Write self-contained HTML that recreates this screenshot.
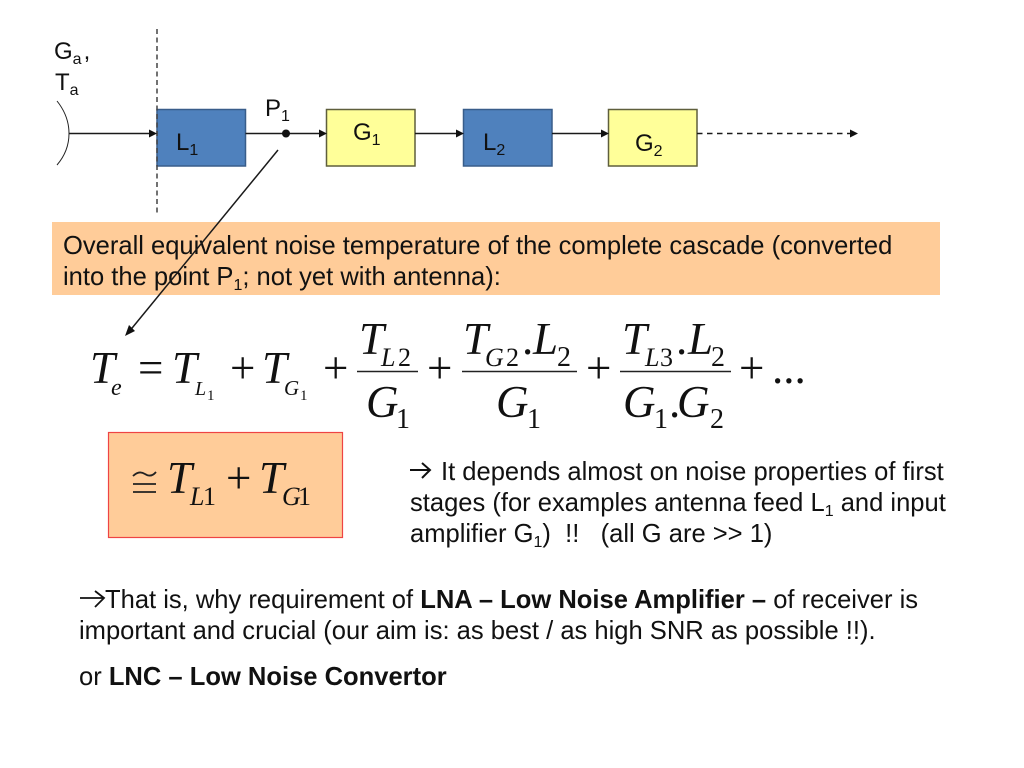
<!DOCTYPE html>
<html><head><meta charset="utf-8"><style>
html,body{margin:0;padding:0;background:#fff}
svg{display:block}
text{white-space:pre}
.s{font-family:"Liberation Sans",sans-serif;font-size:24px;fill:#111}
.t{font-size:25.55px}
.sub{font-size:16px}
.b{font-weight:bold}
.m{font-family:"Liberation Serif",serif;font-size:45px;font-style:italic;fill:#111}
.n{font-family:"Liberation Serif",serif;font-size:45px;fill:#111}
.ms{font-family:"Liberation Serif",serif;font-size:28px;font-style:italic;fill:#111}
.ns{font-family:"Liberation Serif",serif;font-size:28px;fill:#111}
.f{font-family:"Liberation Serif",serif;font-size:26px;font-style:italic;fill:#111}
.d{font-family:"Liberation Serif",serif;font-size:26px;fill:#111}
.l{stroke:#1a1a1a;stroke-width:1.500;fill:none}
.a{fill:#111;stroke:none}
</style></head><body>
<svg width="1024" height="768" viewBox="0 0 1024 768" xmlns="http://www.w3.org/2000/svg">
<rect width="1024" height="768" fill="#fff"/>

<text class="s" x="54" y="59">G<tspan class="sub" dy="5">a</tspan><tspan dy="-5" dx="2">,</tspan></text>
<text class="s" x="55" y="90">T<tspan class="sub" dy="5">a</tspan></text>
<text class="s" x="265" y="116">P<tspan class="sub" dy="5">1</tspan></text>

<path d="M57 101 Q69 116 69 133.500 Q69 151 57 165" stroke="#222" stroke-width="1" fill="none"/>

<rect x="157" y="109.500" width="88.500" height="56.500" fill="#4f81bd" stroke="#385d8a" stroke-width="1.500"/>
<rect x="326.500" y="109.500" width="88.500" height="56.500" fill="#ffff99" stroke="#5f5f3c" stroke-width="1.500"/>
<rect x="463.500" y="109.500" width="88.500" height="56.500" fill="#4f81bd" stroke="#385d8a" stroke-width="1.500"/>
<rect x="608.500" y="109.500" width="88.500" height="56.500" fill="#ffff99" stroke="#5f5f3c" stroke-width="1.500"/>

<line x1="157" y1="29" x2="157" y2="213" stroke="#444" stroke-width="1.500" stroke-dasharray="5 3.500"/>

<path class="l" d="M69 133.500H150M245.500 133.500H320M415 133.500H457M552 133.500H602"/>
<path class="l" d="M697 133.500H851" stroke-dasharray="5.500 4.500"/>
<path class="a" d="M149 129.500L157 133.500L149 137.500ZM319 129.500L327 133.500L319 137.500ZM456 129.500L464 133.500L456 137.500ZM601 129.500L609 133.500L601 137.500ZM850 129.500L858 133.500L850 137.500Z"/>
<circle class="a" cx="286" cy="133.500" r="4"/>

<text class="s" x="176" y="150">L<tspan class="sub" dy="5">1</tspan></text>
<text class="s" x="353" y="140">G<tspan class="sub" dy="5">1</tspan></text>
<text class="s" x="483" y="150">L<tspan class="sub" dy="5">2</tspan></text>
<text class="s" x="635" y="151">G<tspan class="sub" dy="5">2</tspan></text>

<rect x="52" y="222" width="888" height="73" fill="#ffcc99"/>
<text class="s t" x="63" y="254">Overall equivalent noise temperature of the complete cascade (converted</text>
<text class="s t" x="63" y="285">into the point P<tspan class="sub" dy="5">1</tspan><tspan dy="-5">; not yet with antenna):</tspan></text>

<path class="l" d="M278 150L128 333"/>
<path class="a" d="M125 336L129 325L135 331Z"/>

<!-- Equation -->
<text class="m" x="90" y="383">T</text><text class="ms" x="111" y="395" style="font-size:24px">e</text>
<text class="n" x="138" y="383">=</text>
<text class="m" x="172" y="383">T</text><text class="ms" x="195" y="395" style="font-size:20px">L</text><text class="ns" x="207" y="400" style="font-size:15px">1</text>
<text class="n" x="230" y="383">+</text>
<text class="m" x="262" y="383">T</text><text class="ms" x="284" y="395" style="font-size:21px">G</text><text class="ns" x="300" y="400" style="font-size:15px">1</text>
<text class="n" x="323" y="383">+</text>

<line x1="357" y1="371.500" x2="418" y2="371.500" stroke="#222" stroke-width="1.500"/>
<text class="m" x="359" y="354">T</text>
<text class="f" x="381" y="366">L</text><text class="d" x="398" y="366">2</text>
<text class="m" x="366" y="417">G</text><text class="ns" x="396" y="428">1</text>
<text class="n" x="427" y="383">+</text>

<line x1="462" y1="371.500" x2="577" y2="371.500" stroke="#222" stroke-width="1.500"/>
<text class="m" x="463" y="354">T</text>
<text class="f" x="485" y="366">G</text><text class="d" x="506" y="366">2</text>
<text class="n" x="522" y="354">.</text><text class="m" x="533" y="354">L</text><text class="ns" x="557" y="366">2</text>
<text class="m" x="496" y="417">G</text><text class="ns" x="527" y="428">1</text>
<text class="n" x="586" y="383">+</text>

<line x1="620" y1="371.500" x2="731" y2="371.500" stroke="#222" stroke-width="1.500"/>
<text class="m" x="622" y="354">T</text>
<text class="f" x="645" y="366">L</text><text class="d" x="660" y="366">3</text>
<text class="n" x="676" y="354">.</text><text class="m" x="688" y="354">L</text><text class="ns" x="711" y="366">2</text>
<text class="m" x="623" y="417">G</text><text class="ns" x="654" y="428">1</text><text class="n" x="669" y="417">.</text><text class="m" x="677" y="417">G</text><text class="ns" x="710" y="428">2</text>
<text class="n" x="739" y="383">+</text>
<text class="n" x="772" y="383">...</text>

<!-- Boxed -->
<rect x="108.500" y="432.500" width="234" height="105" fill="#ffcc99" stroke="#ee4444" stroke-width="1.200"/>
<path d="M133 484H156M133 492H156" stroke="#222" stroke-width="1.800" fill="none"/>
<path d="M133 476Q139 470 145 474T156 472" stroke="#222" stroke-width="1.800" fill="none"/>
<text class="m" x="167" y="493">T</text>
<text class="f" x="190" y="505">L</text><text class="d" x="203" y="505">1</text>
<text class="n" x="226" y="493">+</text>
<text class="m" x="259" y="493">T</text>
<text class="f" x="282" y="505">G</text><text class="d" x="298" y="505">1</text>

<!-- Note -->
<path d="M410 470H430M422 463L430 470L422 478" stroke="#111" stroke-width="2" fill="none"/>
<text class="s t" x="441" y="480">It depends almost on noise properties of first</text>
<text class="s t" x="410" y="511">stages (for examples antenna feed L<tspan class="sub" dy="5">1</tspan><tspan dy="-5"> and input</tspan></text>
<text class="s t" x="410" y="542">amplifier G<tspan class="sub" dy="5">1</tspan><tspan dy="-5">)  !!   (all G are &gt;&gt; 1)</tspan></text>

<!-- Bottom -->
<path d="M80 598H104M95 591L104 598L95 607" stroke="#111" stroke-width="1.800" fill="none"/>
<text class="s t" x="105" y="608">That is, why requirement of <tspan class="b">LNA – Low Noise Amplifier – </tspan>of receiver is</text>
<text class="s t" x="79" y="639">important and crucial (our aim is: as best / as high SNR as possible !!).</text>
<text class="s t" x="79" y="685">or <tspan class="b">LNC – Low Noise Convertor</tspan></text>
</svg>
</body></html>
